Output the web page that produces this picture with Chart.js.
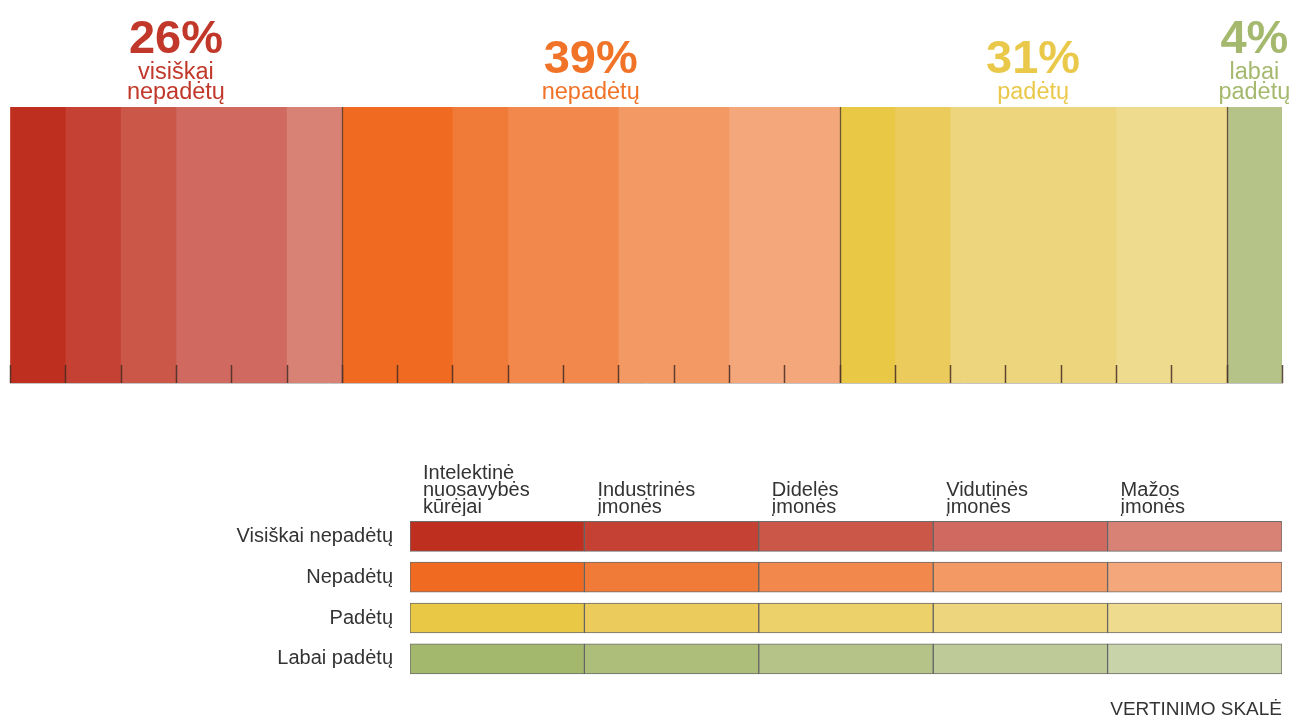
<!DOCTYPE html>
<html>
<head>
<meta charset="utf-8">
<script src="https://cdn.jsdelivr.net/npm/chart.js@4/dist/chart.umd.min.js"></script>
<style>
  body { margin: 0; background: #fff; overflow: hidden; }
  #top { position: absolute; left: 0; top: 0; }
  #scale { position: absolute; left: 0; top: 430px; }
</style>
</head>
<body>
<canvas id="top" width="1299" height="384"></canvas>
<canvas id="scale" width="1299" height="291"></canvas>
<script>
const FONT = "'Liberation Sans', Arial, sans-serif";

// grupes (virsuje)
const groupPercent = [26, 39, 31, 4];
const groupLabels = [["visiškai", "nepadėtų"], ["nepadėtų"], ["padėtų"], ["labai", "padėtų"]];
const groupColors = ["#c1382a", "#f07328", "#e9c84a", "#a5b96e"];

// vertinimo skale
const rowLabels = ["Visiškai nepadėtų", "Nepadėtų", "Padėtų", "Labai padėtų"];
const companyTypes = [
  ["Intelektinė", "nuosavybės", "kūrėjai"],
  ["Industrinės", "įmonės"],
  ["Didelės", "įmonės"],
  ["Vidutinės", "įmonės"],
  ["Mažos", "įmonės"]
];
const cellValues = [1, 1, 1, 1];

// juostos segmentai: grupe, imones tipas, reiksme
const segmentGroup = [0, 0, 0, 0, 0, 1, 1, 1, 1, 1, 2, 2, 2, 2, 3];
const segmentType  = [0, 1, 2, 3, 4, 0, 1, 2, 3, 4, 0, 1, 3, 4, 2];
const segmentValue = [1, 1, 1, 2, 1, 2, 1, 2, 2, 2, 1, 1, 3, 2, 1];

const palette = [
  ["#bf2f1f", "#c54133", "#ca5748", "#d0695f", "#d88276"],
  ["#f06b21", "#f07a37", "#f2884c", "#f39963", "#f5a77c"],
  ["#e9c845", "#eacb5c", "#ecd06a", "#edd57d", "#efdb8e"],
  ["#a4b86d", "#adbe7a", "#b5c388", "#becb98", "#c8d3a9"]
];

const total = segmentValue.reduce((a, b) => a + b, 0);

// grupiu dydziai
const groupSize = groupPercent.map((_, g) =>
  segmentValue.filter((v, i) => segmentGroup[i] === g).reduce((a, b) => a + b, 0));

const topDecor = {
  id: "topDecor",
  afterDatasetsDraw(chart) {
    const ctx = chart.ctx;
    const x = chart.scales.x;
    const area = chart.chartArea;
    ctx.save();
    // tick marks
    ctx.strokeStyle = "rgba(70,45,35,0.85)";
    ctx.lineWidth = 1.5;
    x.ticks.forEach(t => {
      const px = Math.round(x.getPixelForValue(t.value)) + 0.5;
      ctx.beginPath();
      ctx.moveTo(px, area.bottom);
      ctx.lineTo(px, area.bottom - 18);
      ctx.stroke();
    });
    // grupiu ribos
    ctx.lineWidth = 1.3;
    ctx.strokeStyle = "rgba(80,55,45,0.8)";
    let acc = 0;
    groupSize.slice(0, -1).forEach(s => {
      acc += s;
      const px = Math.round(x.getPixelForValue(acc)) + 0.5;
      ctx.beginPath();
      ctx.moveTo(px, area.top);
      ctx.lineTo(px, area.bottom);
      ctx.stroke();
    });
    // uzrasai
    acc = 0;
    ctx.textAlign = "center";
    ctx.textBaseline = "alphabetic";
    groupSize.forEach((s, g) => {
      const cx = x.getPixelForValue(acc + s / 2);
      acc += s;
      const lines = groupLabels[g];
      ctx.fillStyle = groupColors[g];
      ctx.font = "23.5px " + FONT;
      lines.forEach((l, i) => {
        ctx.fillText(l, cx, 99 - (lines.length - 1 - i) * 20);
      });
      ctx.font = "bold 47px " + FONT;
      ctx.fillText(groupPercent[g] + "%", cx, 99 - (lines.length - 1) * 20 - 26);
    });
    ctx.restore();
  }
};

new Chart(document.getElementById("top"), {
  type: "bar",
  data: {
    labels: [""],
    datasets: segmentValue.map((v, i) => ({
      label: rowLabels[segmentGroup[i]] + " - " + companyTypes[segmentType[i]].join(" "),
      data: [v],
      backgroundColor: palette[segmentGroup[i]][segmentType[i]],
      borderWidth: 0,
      barPercentage: 1,
      categoryPercentage: 1
    }))
  },
  options: {
    indexAxis: "y",
    responsive: false,
    animation: false,
    layout: { padding: { left: 10, right: 17, top: 107, bottom: 1 } },
    plugins: { legend: { display: false }, tooltip: { enabled: false } },
    scales: {
      x: {
        stacked: true, min: 0, max: total,
        ticks: { display: false, stepSize: 1 },
        grid: { drawOnChartArea: false, drawTicks: false },
        border: { color: "#c4c4c4" }
      },
      y: { stacked: true, display: false }
    }
  },
  plugins: [topDecor]
});

new Chart(document.getElementById("scale"), {
  type: "bar",
  data: {
    labels: rowLabels,
    datasets: companyTypes.map((t, c) => ({
      label: t.join(" "),
      data: cellValues,
      backgroundColor: palette.map(row => row[c]),
      borderColor: "rgba(60,60,60,0.75)",
      borderWidth: 1,
      borderSkipped: false,
      barThickness: 30
    }))
  },
  options: {
    indexAxis: "y",
    responsive: false,
    animation: false,
    layout: { padding: { left: 0, right: 17, top: 9, bottom: 0 } },
    plugins: {
      legend: { display: false },
      tooltip: { enabled: false },
      title: {
        display: true, text: "VERTINIMO SKALĖ", position: "bottom", align: "end",
        color: "#333", font: { family: FONT, size: 19, weight: "normal" },
        padding: { top: 19, bottom: 0 }
      }
    },
    scales: {
      x: {
        position: "top", stacked: true, min: 0, max: companyTypes.length,
        ticks: {
          stepSize: 1, autoSkip: false, maxRotation: 0, minRotation: 0,
          align: "start", labelOffset: 13, padding: -8, color: "#333",
          font: { family: FONT, size: 20, lineHeight: 0.85 },
          // tuscios eilutes tik padidina asies auksti
          callback: v => companyTypes[v] ? ["", "", ...companyTypes[v]] : ""
        },
        grid: { display: false },
        border: { display: false }
      },
      y: {
        stacked: true,
        ticks: { color: "#333", padding: 9, font: { family: FONT, size: 20 } },
        grid: { display: false },
        border: { display: false },
        afterFit: s => { s.width = 410; }
      }
    }
  }
});
</script>
</body>
</html>
